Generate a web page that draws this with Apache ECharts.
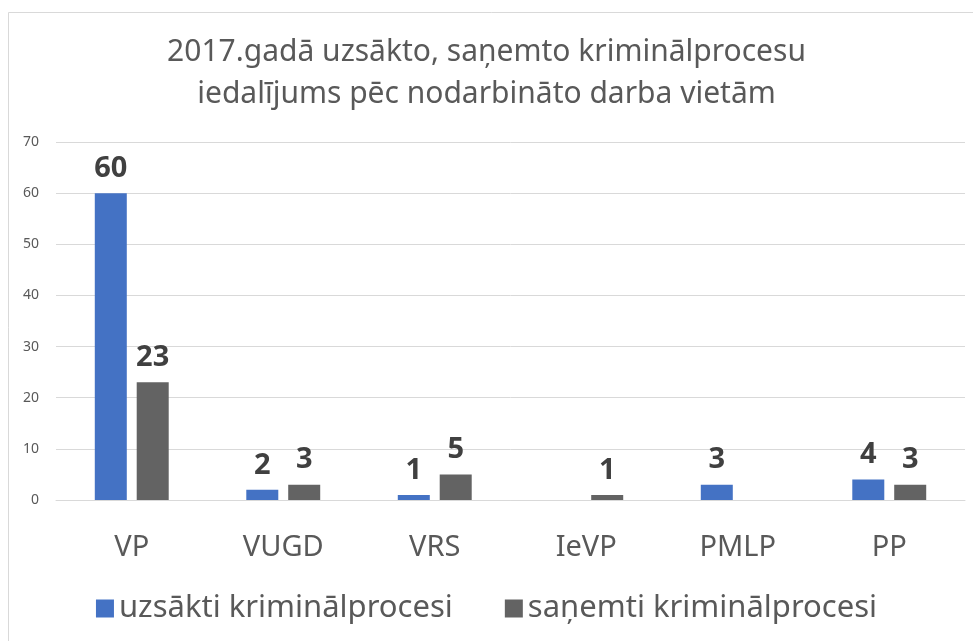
<!DOCTYPE html>
<html>
<head>
<meta charset="utf-8">
<script src="https://cdn.jsdelivr.net/npm/echarts@6/dist/echarts.min.js"></script>
<style>
html, body { margin: 0; padding: 0; background: #fff; }
#chart { width: 973px; height: 641px; }
</style>
</head>
<body>
<div id="chart"></div>
<script>
var categories = ['VP', 'VUGD', 'VRS', 'IeVP', 'PMLP', 'PP'];
var uzsakti = [60, 2, 1, '-', 3, 4];
var sanemti = [23, 3, 5, 1, '-', 3];
var yTicks = [0, 10, 20, 30, 40, 50, 60, 70];

var font = 'Noto Sans';
var myChart = echarts.init(document.getElementById('chart'));

var option = {
	backgroundColor: '#fff',
	animation: false,
	graphic: [{
		type: 'rect',
		silent: true,
		z: -10,
		shape: { x: 8.5, y: 12.5, width: 1000, height: 700 },
		style: { fill: 'none', stroke: '#d9d9d9', lineWidth: 1 }
	}],
	title: {
		text: '2017.gadā uzsākto, saņemto kriminālprocesu\niedalījums pēc nodarbināto darba vietām',
		left: 'center',
		top: 26,
		textStyle: {
			fontFamily: font,
			fontSize: 30,
			fontWeight: 'normal',
			color: '#595959',
			lineHeight: 42
		}
	},
	legend: {
		data: ['uzsākti kriminālprocesi', 'saņemti kriminālprocesi'],
		bottom: 12,
		left: 'center',
		icon: 'rect',
		itemWidth: 18,
		itemHeight: 18,
		itemGap: 52,
		textStyle: {
			fontFamily: font,
			fontSize: 31,
			color: '#595959'
		}
	},
	grid: {
		left: 56,
		right: 8,
		top: 142,
		bottom: 141
	},
	xAxis: {
		type: 'category',
		data: categories,
		axisTick: { show: false },
		axisLine: { lineStyle: { color: '#d9d9d9', width: 1 } },
		axisLabel: {
			fontFamily: font,
			fontSize: 29,
			color: '#595959',
			margin: 33
		}
	},
	yAxis: {
		type: 'value',
		min: yTicks[0],
		max: yTicks[yTicks.length - 1],
		interval: 10,
		axisLine: { show: false },
		axisTick: { show: false },
		splitLine: { lineStyle: { color: '#d9d9d9', width: 1 } },
		axisLabel: {
			fontFamily: font,
			fontSize: 14,
			color: '#595959',
			margin: 17
		}
	},
	series: [{
		name: 'uzsākti kriminālprocesi',
		type: 'bar',
		data: uzsakti,
		barWidth: 32,
		barGap: '31%',
		itemStyle: { color: '#4472c4' },
		label: {
			show: true,
			position: 'top',
			distance: 10,
			fontFamily: font,
			fontSize: 29,
			fontWeight: 'bold',
			color: '#404040'
		}
	}, {
		name: 'saņemti kriminālprocesi',
		type: 'bar',
		data: sanemti,
		barWidth: 32,
		itemStyle: { color: '#636363' },
		label: {
			show: true,
			position: 'top',
			distance: 10,
			fontFamily: font,
			fontSize: 29,
			fontWeight: 'bold',
			color: '#404040'
		}
	}]
};
myChart.setOption(option);
</script>
</body>
</html>
